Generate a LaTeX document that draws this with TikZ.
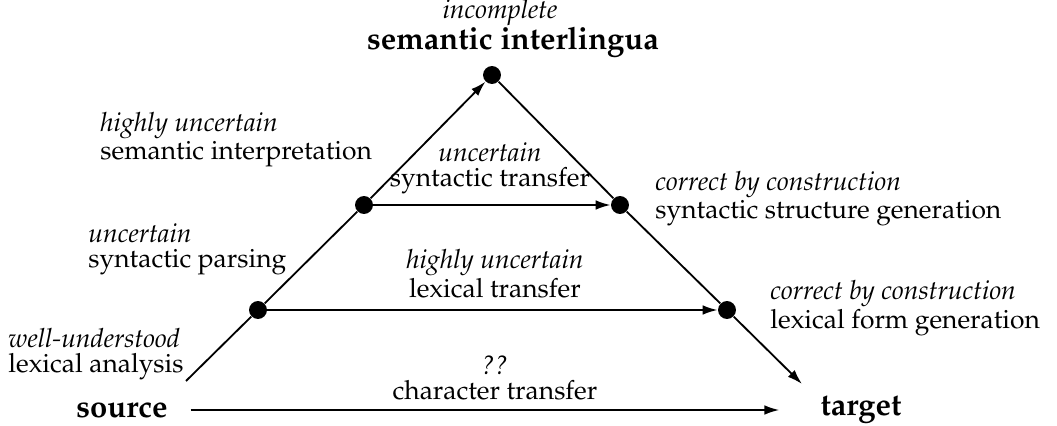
\documentclass[tikz,border=0pt]{standalone}
\usepackage[T1]{fontenc}
\usepackage{mathpazo}
\usetikzlibrary{arrows.meta}

\begin{document}
\begin{tikzpicture}[x=0.0153cm,y=-0.0153cm,font=\fontsize{11.5}{10.8}\selectfont]
    \useasboundingbox (0,0) rectangle (1057,426);
    \tikzset{dot/.style={circle,fill=black,inner sep=0pt,minimum size=7.8pt},
             lab/.style={inner sep=0pt,align=left,anchor=west},
             mid/.style={inner sep=0pt,align=center},
             big/.style={font=\fontsize{13.5}{15}\selectfont\bfseries},
             tip/.style={-{Latex[length=6.5pt,width=4.2pt]},thick}}

    % the triangle
    \node[dot] (top) at (492,75) {};
    \node[dot] (synL) at (364,205) {};
    \node[dot] (synR) at (620,205) {};
    \node[dot] (lexL) at (258,310) {};
    \node[dot] (lexR) at (727,310) {};
    \coordinate (in) at (186,381);
    \coordinate (out) at (802,384);

    \node[big] (src) at (122,410) {source};
    \node[big] (tgt) at (861,410) {target};
    \node[big] (il) at (513,42) {semantic interlingua};
    \node[font=\fontsize{11.5}{10.8}\selectfont\itshape,inner sep=0pt] (inc) at (500,13) {incomplete};

    \draw[thick] (in) -- (lexL) -- (synL);
    \draw[tip] (synL) -- (top);
    \draw[thick] (top) -- (synR) -- (lexR);
    \draw[tip] (lexR) -- (out);

    \draw[tip] (synL) -- (synR);
    \draw[tip] (lexL) -- (lexR);
    \path[tip] (src) edge[shorten <=6.5pt,shorten >=14.4pt] (tgt);

    % left side
    \node[lab] (semI) at (100,140) {\textit{highly uncertain}\\semantic interpretation};
    \node[lab] (synP) at (88,249) {\textit{uncertain}\\syntactic parsing};
    \node[lab] (lexA) at (8,354) {\textit{well-understood}\\lexical analysis};

    % middle
    \node[mid] (synT) at (490,168) {\textit{uncertain}\\syntactic transfer};
    \node[mid] (lexT) at (495,274) {\textit{highly uncertain}\\lexical transfer};
    \node[mid] (chrT) at (495,378) {\textit{??}\\character transfer};

    % right side
    \node[lab] (synG) at (655,199) {\textit{correct by construction}\\syntactic structure generation};
    \node[lab] (lexG) at (770,308) {\textit{correct by construction}\\lexical form generation};
\end{tikzpicture}
\end{document}
